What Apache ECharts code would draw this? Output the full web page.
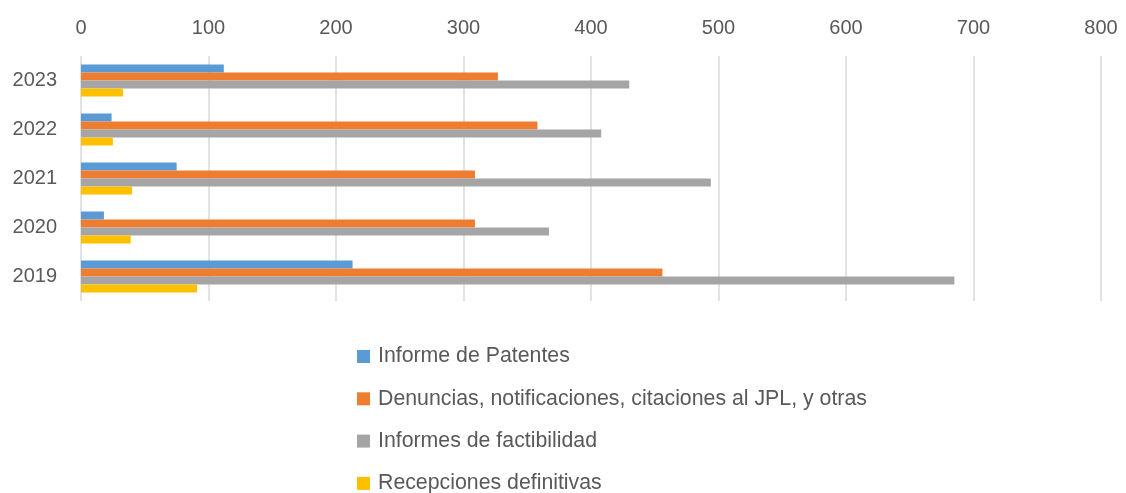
<!DOCTYPE html>
<html lang="es">
<head>
<meta charset="UTF-8">
<title>Chart</title>
<script src="https://cdn.jsdelivr.net/npm/echarts@6/dist/echarts.min.js"></script>
<style>
  html, body { margin: 0; padding: 0; background: #fff; }
</style>
</head>
<body>
<div id="chart" style="width: 1126px; height: 493px;"></div>
<script>
  // data
  var years = ['2019', '2020', '2021', '2022', '2023'];
  var seriesNames = [
    'Informe de Patentes',
    'Denuncias, notificaciones, citaciones al JPL, y otras',
    'Informes de factibilidad',
    'Recepciones definitivas'
  ];
  var patentes = [213, 18, 75, 24, 112];
  var denuncias = [456, 309, 309, 358, 327];
  var factibilidad = [685, 367, 494, 408, 430];
  var recepciones = [91, 39, 40, 25, 33];
  var colors = ['#5b9bd5', '#ed7d31', '#a5a5a5', '#ffc000'];

  var font = 'Liberation Sans';
  var chart = echarts.init(document.getElementById('chart'));

  var values = [patentes, denuncias, factibilidad, recepciones];
  var series = values.map(function (v, i) {
    return {
      name: seriesNames[i],
      type: 'bar',
      data: v,
      barWidth: 8,
      barGap: '0%',
      itemStyle: { color: colors[i] }
    };
  });

  // one legend per row so the list never wraps into a second column
  var legends = seriesNames.map(function (name, i) {
    return {
      orient: 'vertical',
      left: 357,
      top: 346 + i * 42.3,
      padding: 0,
      itemWidth: 13,
      itemHeight: 13,
      icon: 'rect',
      textStyle: {
        color: '#595959', fontSize: 21.3,
        fontFamily: font, padding: [0, 0, 0, 3]
      },
      data: [name]
    };
  });

  chart.setOption({
    animation: false,
    backgroundColor: '#fff',
    textStyle: { fontFamily: font },
    grid: { left: 81, right: 25, top: 56, height: 245 },
    xAxis: {
      type: 'value',
      position: 'top',
      min: 0,
      max: 800,
      interval: 100,
      axisLine: { show: false },
      axisTick: { show: false },
      axisLabel: { color: '#595959', fontSize: 20, margin: 18, fontFamily: font },
      splitLine: { lineStyle: { color: '#d9d9d9', width: 1.5 } }
    },
    yAxis: {
      type: 'category',
      data: years,
      axisLine: { show: false },
      axisTick: { show: false },
      axisLabel: { color: '#595959', fontSize: 20, margin: 24, fontFamily: font }
    },
    legend: legends,
    series: series
  });
</script>
</body>
</html>
